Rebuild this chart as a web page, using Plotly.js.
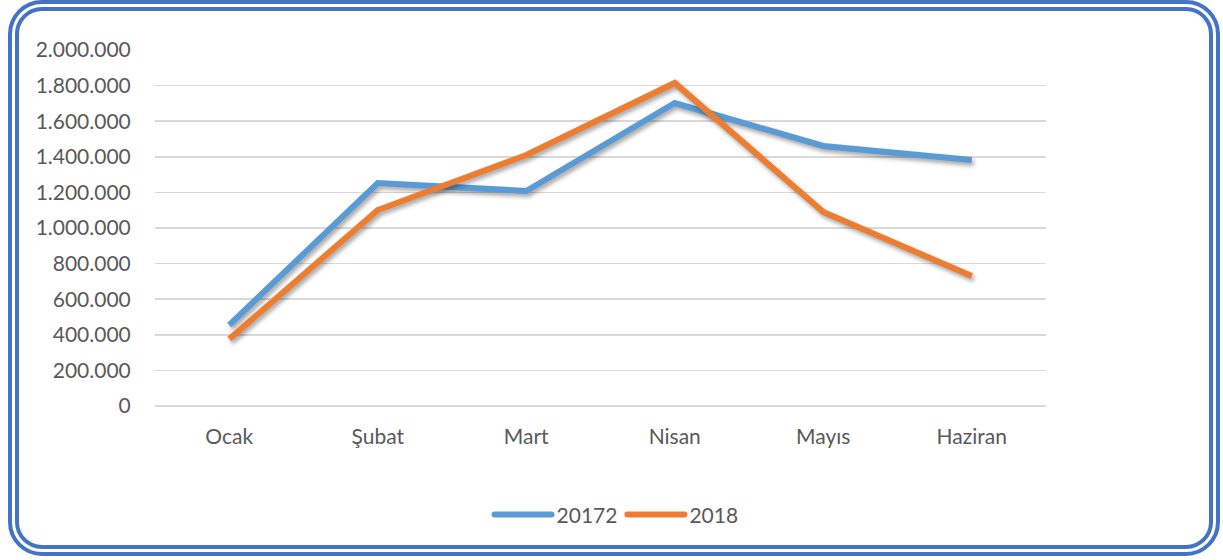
<!DOCTYPE html>
<html>
<head>
<meta charset="utf-8">
<script src="https://cdn.plot.ly/plotly-3.0.1.min.js"></script>
<style>
  html, body { margin: 0; padding: 0; background: #fff; }
  #wrap { position: relative; width: 1223px; height: 560px; }
  #chart { position: absolute; left: 0; top: 0; width: 1223px; height: 560px; }
  #frame { position: absolute; left: 8px; top: 0px; width: 1212px; height: 556px; box-sizing: border-box;
           border: 11px double #4472C4; border-radius: 34px; pointer-events: none; }
  .scatterlayer path.js-line { filter: drop-shadow(2px 3px 2px rgba(0,0,0,0.35)); }
  .legend path.js-line { stroke-linecap: round; }
</style>
</head>
<body>
<div id="wrap">
  <div id="chart"></div>
  <div id="frame"></div>
</div>
<script>
const months = ["Ocak", "Şubat", "Mart", "Nisan", "Mayıs", "Haziran"];
const series2017 = [455000, 1253000, 1208000, 1702000, 1461000, 1382000];
const series2018 = [376000, 1101000, 1410000, 1815000, 1090000, 730000];
const tickVals = [0, 200000, 400000, 600000, 800000, 1000000, 1200000, 1400000, 1600000, 1800000, 2000000];
const tickText = ["0", "200.000", "400.000", "600.000", "800.000", "1.000.000", "1.200.000", "1.400.000", "1.600.000", "1.800.000", "2.000.000"];

const font = { family: "Lato, 'Open Sans', sans-serif", size: 21, color: "#595959" };

const traces = [
  { x: months, y: series2017, name: "20172", type: "scatter", mode: "lines",
    line: { color: "#5B9BD5", width: 6 }, cliponaxis: false },
  { x: months, y: series2018, name: "2018", type: "scatter", mode: "lines",
    line: { color: "#ED7D31", width: 6 }, cliponaxis: false }
];

const layout = {
  width: 1223, height: 560,
  margin: { l: 155, r: 177, t: 50, b: 154 },
  paper_bgcolor: "#ffffff", plot_bgcolor: "#ffffff",
  font: font,
  showlegend: true,
  legend: { orientation: "h", x: 0.518, xanchor: "center", y: -0.306, yanchor: "middle",
            font: font, itemwidth: 57, traceorder: "normal" },
  xaxis: { type: "category", range: [-0.5, 5.5], showgrid: false, zeroline: false,
           showline: false, ticks: "outside", ticklen: 12, tickcolor: "rgba(0,0,0,0)",
           tickfont: font, fixedrange: true },
  yaxis: { range: [0, 2000000], tickmode: "array", tickvals: tickVals, ticktext: tickText,
           showgrid: true, gridcolor: "#D9D9D9", gridwidth: 1.5, zeroline: true,
           zerolinecolor: "#D9D9D9", zerolinewidth: 1.5, showline: false,
           ticks: "outside", ticklen: 19, tickcolor: "rgba(0,0,0,0)", tickfont: font, fixedrange: true }
};

Plotly.newPlot("chart", traces, layout, { displayModeBar: false, staticPlot: true });
</script>
</body>
</html>
